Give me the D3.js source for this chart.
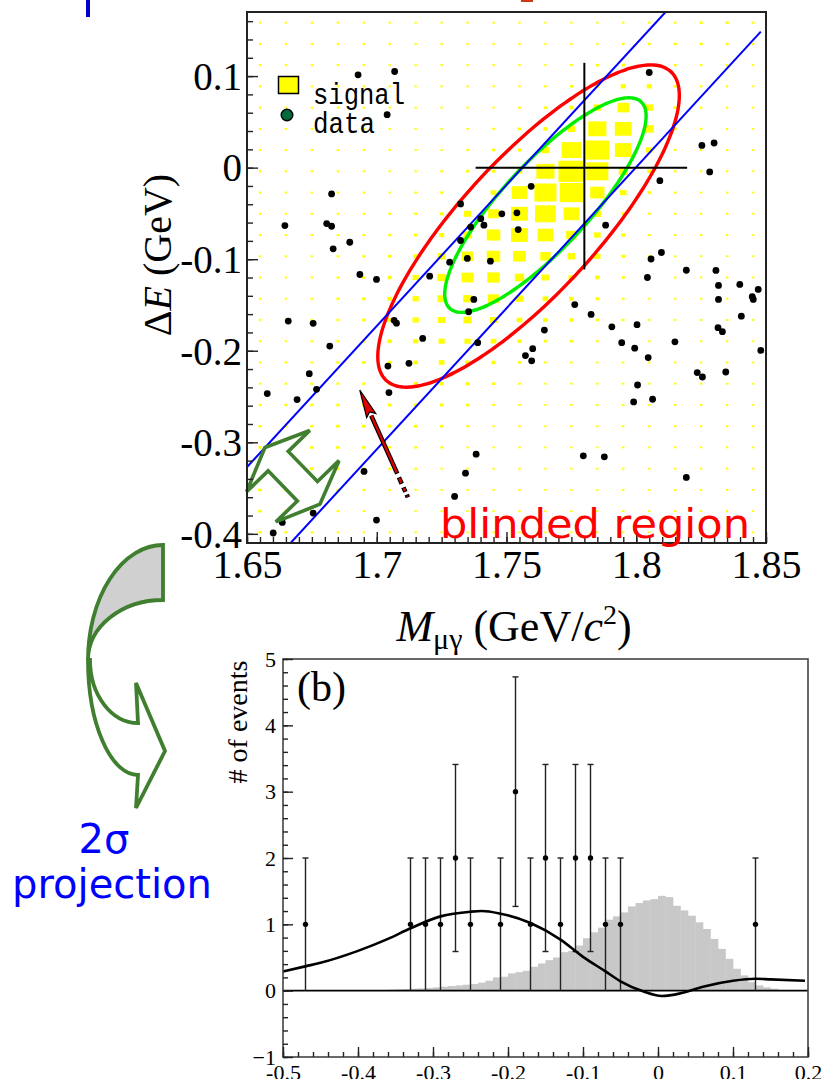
<!DOCTYPE html>
<html><head><meta charset="utf-8">
<script src="https://cdn.jsdelivr.net/npm/d3@7"></script>
<style>body{margin:0;background:#fff}svg{display:block}</style>
</head><body>
<svg id="c" width="827" height="1079"></svg>
<script>
// ================= DATA =================
// --- top panel: M_mu_gamma vs Delta E ---
const topXDomain = [1.65, 1.85];
const topYDomain = [-0.41, 0.17];
const topXTicks = [1.65, 1.7, 1.75, 1.8, 1.85];
const topYTicks = [-0.4, -0.3, -0.2, -0.1, 0, 0.1];
// signal MC box sizes (% of cell), rows from top (dE high) to bottom, 20 mass bins of 0.01
const sigNX = 20, sigNY = 25;
const signalBoxes = [
 [9,9,9,9,9,9,9,9,9,9,9,9,9,9,9,10,10,12,12,11],
 [9,9,9,9,9,9,9,9,9,9,9,9,9,9,10,11,12,12,11,10],
 [9,9,9,9,9,9,9,9,9,9,9,9,10,12,13,13,11,10,10,9],
 [9,9,9,9,9,9,9,9,9,9,9,10,12,14,20,20,12,10,9,9],
 [9,9,9,9,9,9,9,9,9,9,10,12,16,30,45,30,13,10,9,9],
 [9,9,9,9,9,9,9,9,9,10,12,16,30,70,65,35,12,10,9,9],
 [9,9,9,9,9,9,9,9,10,12,14,30,75,90,65,25,10,9,9,9],
 [9,9,9,9,9,9,9,10,12,13,22,70,100,85,35,16,10,9,9,9],
 [9,9,9,9,9,9,10,11,13,22,60,85,90,55,25,13,10,9,9,9],
 [9,9,9,9,9,10,11,15,28,42,65,80,60,30,14,10,9,9,9,9],
 [9,9,9,9,10,11,13,20,34,52,65,60,40,25,16,10,9,9,9,9],
 [9,9,9,10,11,13,19,30,44,52,50,40,30,25,14,10,9,9,9,9],
 [9,9,9,10,12,16,24,34,46,48,36,28,22,18,12,9,9,9,9,9],
 [9,9,10,11,13,18,24,32,34,42,30,22,18,14,10,9,9,9,9,9],
 [9,9,10,11,13,18,24,28,32,28,22,18,16,12,10,9,9,9,9,9],
 [9,9,10,11,13,17,20,24,24,22,16,12,12,10,9,9,9,9,9,9],
 [9,10,10,11,13,16,18,22,19,16,12,10,10,9,9,9,9,9,9,9],
 [9,10,11,11,12,13,16,16,15,12,10,9,9,9,9,9,9,9,9,9],
 [10,11,12,12,13,14,14,13,12,10,9,9,9,9,9,9,9,9,9,9],
 [11,12,12,13,14,14,13,12,10,9,9,9,9,9,9,9,9,9,9,9],
 [12,12,13,13,13,12,11,10,9,9,9,9,9,9,9,9,9,9,9,9],
 [12,13,13,13,12,11,10,9,9,9,9,9,9,9,9,9,9,9,9,9],
 [13,13,12,11,10,9,9,9,9,9,9,9,9,9,9,9,9,9,9,9],
 [13,12,11,10,9,9,9,9,9,9,9,9,9,9,9,9,9,9,9,9],
 [12,11,10,9,9,9,9,9,9,9,9,9,9,9,9,9,9,9,9,9]
];
// observed data events
const dataM = [1.6928,1.7069,1.7040,1.6826,1.6646,1.6807,1.6826,1.6832,1.6896,1.6935,1.6999,
 1.8050,1.8253,1.8300,1.8283,1.8091,1.7595,1.7323,1.7482,1.7540,1.7401,1.7362,1.7413,1.7545,
 1.7323,1.7882,1.7281,1.7349,1.7438,1.7204,1.8057,1.8097,1.8193,1.8307,1.8043,1.7374,1.7354,
 1.7763,1.7826,1.7906,1.8003,1.8149,1.7944,1.7994,1.8046,1.7067,1.7076,1.7177,1.7124,1.7043,
 1.7646,1.7573,1.7601,1.7597,1.7389,1.8005,1.8235,1.8255,1.8345,1.8063,1.7990,1.7047,1.6659,
 1.6755,1.6819,1.6740,1.6768,1.6578,1.6693,1.7383,1.7342,1.7300,1.6951,1.6755,1.6636,1.6601,
 1.6999,1.8317,1.8399,1.8470,1.8447,1.8451,1.8317,1.8405,1.8315,1.8332,1.8480,1.7796,1.7877,1.8193];
const dataDE = [0.1014,0.1050,0.0578,-0.0287,-0.0633,-0.0611,-0.0640,-0.0887,-0.0815,-0.1167,-0.1221,
 0.1039,0.0243,0.0269,-0.0047,-0.0142,-0.0204,-0.0396,-0.0505,-0.0494,-0.0558,-0.0649,-0.0629,-0.0676,
 -0.0796,-0.0629,-0.1033,-0.0992,-0.1022,-0.1185,-0.0998,-0.0927,-0.1121,-0.1123,-0.1200,-0.1439,-0.1574,
 -0.1496,-0.1603,-0.1739,-0.1715,-0.1903,-0.1912,-0.1972,-0.2075,-0.1668,-0.1699,-0.1865,-0.2137,-0.2167,
 -0.1774,-0.2053,-0.1977,-0.2110,-0.1912,-0.2374,-0.2239,-0.2287,-0.2232,-0.2530,-0.2559,-0.2457,-0.1676,
 -0.1701,-0.1949,-0.2250,-0.2421,-0.2468,-0.2533,-0.3130,-0.3337,-0.3591,-0.3318,-0.3773,-0.3875,-0.3991,
 -0.3850,-0.1287,-0.1276,-0.1330,-0.1410,-0.1439,-0.1439,-0.1622,-0.1748,-0.1792,-0.1996,-0.3148,-0.3159,-0.3384];
// ellipses: [centre M, centre dE, half-width M, half-height dE, correlation]
const redEllipse = [1.7585, -0.0638, 0.0581, 0.176, 0.81];
const greenEllipse = [1.765, -0.0409, 0.0388, 0.1172, 0.83];
// blue band lines: endpoints [M, dE]
const bandUpper = [[1.65, -0.327], [1.8113, 0.17]];
const bandLower = [[1.6668, -0.41], [1.848, 0.1485]];
// crosshair: vertical [M, dE1, dE2], horizontal [dE, M1, M2]
const crossV = [1.78, -0.1112, 0.1145];
const crossH = [0.0, 1.7381, 1.8196];

// --- bottom panel (b): Delta E projection ---
const botXDomain = [-0.5, 0.2];
const botYDomain = [-1, 5];
const botXTicks = [-0.5, -0.4, -0.3, -0.2, -0.1, 0, 0.1, 0.2];
const botYTicks = [-1, 0, 1, 2, 3, 4, 5];
const evX = [-0.47,-0.33,-0.31,-0.29,-0.27,-0.25,-0.21,-0.19,-0.17,-0.15,-0.13,-0.11,-0.09,-0.07,-0.05,0.13];
const evN = [1,1,1,1,2,1,1,3,1,2,1,2,2,1,1,1];
const evErr = [1,1,1,1,1.41,1,1,1.73,1,1.41,1,1.41,1.41,1,1,1];
// signal MC histogram: bin left edges and heights (bin width 0.01)
const histLeft = [-0.39,-0.38,-0.37,-0.36,-0.35,-0.34,-0.33,-0.32,-0.31,-0.30,-0.29,-0.28,-0.27,-0.26,-0.25,
 -0.24,-0.23,-0.22,-0.21,-0.20,-0.19,-0.18,-0.17,-0.16,-0.15,-0.14,-0.13,-0.12,-0.11,-0.10,-0.09,-0.08,-0.07,
 -0.06,-0.05,-0.04,-0.03,-0.02,-0.01,0.00,0.01,0.02,0.03,0.04,0.05,0.06,0.07,0.08,0.09,0.10,0.11,0.12,0.13,0.14,0.15];
const histH = [0.005,0.01,0.01,0.015,0.02,0.025,0.03,0.035,0.04,0.05,0.06,0.07,0.08,0.09,0.10,
 0.12,0.15,0.20,0.21,0.26,0.28,0.30,0.36,0.41,0.46,0.50,0.58,0.60,0.68,0.79,0.88,0.95,1.07,
 1.12,1.18,1.27,1.32,1.36,1.38,1.43,1.41,1.28,1.21,1.13,1.03,0.93,0.78,0.63,0.48,0.33,0.23,0.13,0.08,0.05,0.03];
const histW = 0.01;
// fitted curve
const fitX = [-0.5,-0.469,-0.45,-0.40,-0.36,-0.33,-0.29,-0.25,-0.235,-0.21,-0.17,-0.13,-0.10,-0.07,-0.05,-0.02,0.005,0.03,0.06,0.10,0.13,0.15,0.196];
const fitY = [0.29,0.37,0.42,0.60,0.78,0.94,1.12,1.19,1.20,1.16,1.02,0.77,0.51,0.29,0.14,-0.01,-0.08,-0.04,0.06,0.15,0.18,0.17,0.15];

// ================= DRAW =================
const svg = d3.select("#c");
svg.append("rect").attr("width",827).attr("height",1079).attr("fill","#fff");
const serif = "'Liberation Serif','Times New Roman',serif";

// cut-off title remnants at the very top
svg.append("rect").attr("x",86).attr("y",0).attr("width",4).attr("height",17).attr("fill","#0000cc");
svg.append("rect").attr("x",521).attr("y",0).attr("width",12).attr("height",2).attr("fill","#cc3a10");

// ---------- TOP PANEL ----------
const xT = d3.scaleLinear().domain(topXDomain).range([247,766]);
const yT = d3.scaleLinear().domain(topYDomain).range([543,12]);
svg.append("clipPath").attr("id","clipT").append("rect")
  .attr("x",247).attr("y",12).attr("width",519).attr("height",531);
const gT = svg.append("g").attr("clip-path","url(#clipT)");

const bwX = (topXDomain[1]-topXDomain[0])/sigNX, bwY = (topYDomain[1]-topYDomain[0])/sigNY;
const cellW = xT(topXDomain[0]+bwX)-xT(topXDomain[0]);
const cellH = yT(topYDomain[0])-yT(topYDomain[0]+bwY);
const boxes = [];
signalBoxes.forEach((row,r)=>row.forEach((v,j)=>{
  boxes.push({m: topXDomain[0]+(j+0.5)*bwX, e: topYDomain[0]+(sigNY-1-r+0.5)*bwY, f: v/100});
}));
gT.selectAll("rect.sig").data(boxes).join("rect").attr("class","sig")
  .attr("x",d=>xT(d.m)-cellW*d.f/2).attr("y",d=>yT(d.e)-cellH*d.f/2)
  .attr("width",d=>cellW*d.f).attr("height",d=>cellH*d.f).attr("fill","#ffff00");

function ellipsePath(p){
  const [cx,cy,sx,sy,rho]=p;
  const pts = d3.range(0,360,2).map(a=>{const t=a*Math.PI/180;
    return [xT(cx+sx*Math.cos(t)), yT(cy+sy*(rho*Math.cos(t)+Math.sqrt(1-rho*rho)*Math.sin(t)))];});
  return d3.line().curve(d3.curveCardinalClosed)(pts);
}
gT.append("path").attr("d",ellipsePath(redEllipse)).attr("fill","none").attr("stroke","#ff0000").attr("stroke-width",3.4);
gT.append("path").attr("d",ellipsePath(greenEllipse)).attr("fill","none").attr("stroke","#00ee00").attr("stroke-width",3.4);
[bandUpper,bandLower].forEach(l=>{
  gT.append("line").attr("x1",xT(l[0][0])).attr("y1",yT(l[0][1])).attr("x2",xT(l[1][0])).attr("y2",yT(l[1][1]))
    .attr("stroke","#0000ff").attr("stroke-width",2);
});
gT.append("line").attr("x1",xT(crossV[0])).attr("x2",xT(crossV[0])).attr("y1",yT(crossV[1])).attr("y2",yT(crossV[2]))
  .attr("stroke","#000").attr("stroke-width",2);
gT.append("line").attr("y1",yT(crossH[0])).attr("y2",yT(crossH[0])).attr("x1",xT(crossH[1])).attr("x2",xT(crossH[2]))
  .attr("stroke","#000").attr("stroke-width",2);
gT.selectAll("circle.ev").data(dataM.map((m,i)=>[m,dataDE[i]])).join("circle").attr("class","ev")
  .attr("cx",d=>xT(d[0])).attr("cy",d=>yT(d[1])).attr("r",3.4).attr("fill","#000");

// green double arrow (annotation, anchored in data coords)
(function(){
  const ax = xT(1.65692), ay = yT(-0.30567);
  const d=[0.696,0.718], n=[0.718,-0.696];
  const P=(a,b)=>[ax+a*d[0]+b*n[0], ay+a*d[1]+b*n[1]];
  const L=79;
  const pts=[P(0,0),P(19,44),P(19,14),P(L-18,14),P(L-18,44),P(L,0),P(L-18,-44),P(L-18,-14),P(19,-14),P(19,-44)];
  svg.append("path").attr("d",d3.line()(pts)+"Z").attr("fill","#fff").attr("stroke","#3f7f2f")
    .attr("stroke-width",3.6).attr("stroke-linejoin","miter");
})();
// red arrow
(function(){
  const tx=xT(1.69346), ty=yT(-0.2429), ex=xT(1.7120), ey=yT(-0.3602);
  const len=Math.hypot(ex-tx,ey-ty), ux=(ex-tx)/len, uy=(ey-ty)/len, px=-uy, py=ux;
  const hl=28, hw=5;
  const solidEnd=len-26;
  const g=svg.append("g");
  g.append("line").attr("x1",tx+ux*hl).attr("y1",ty+uy*hl).attr("x2",tx+ux*solidEnd).attr("y2",ty+uy*solidEnd)
    .attr("stroke","#000").attr("stroke-width",4.6);
  g.append("line").attr("x1",tx+ux*hl).attr("y1",ty+uy*hl).attr("x2",tx+ux*(solidEnd-1)).attr("y2",ty+uy*(solidEnd-1))
    .attr("stroke","#e00000").attr("stroke-width",2.2);
  [[len-22,len-15],[len-11,len-6],[len-3,len]].forEach(s=>{
    g.append("line").attr("x1",tx+ux*s[0]).attr("y1",ty+uy*s[0]).attr("x2",tx+ux*s[1]).attr("y2",ty+uy*s[1])
      .attr("stroke","#000").attr("stroke-width",4.6);
    g.append("line").attr("x1",tx+ux*(s[0]+1)).attr("y1",ty+uy*(s[0]+1)).attr("x2",tx+ux*(s[1]-1)).attr("y2",ty+uy*(s[1]-1))
      .attr("stroke","#e00000").attr("stroke-width",2.2);
  });
  const head=[[tx,ty],[tx+ux*hl+px*hw,ty+uy*hl+py*hw],[tx+ux*(hl-4),ty+uy*(hl-4)],[tx+ux*hl-px*hw,ty+uy*hl-py*hw]];
  g.append("path").attr("d",d3.line()(head)+"Z").attr("fill","#e00000").attr("stroke","#000").attr("stroke-width",1.2);
})();

// frame
svg.append("rect").attr("x",247).attr("y",12).attr("width",519).attr("height",531)
  .attr("fill","none").attr("stroke","#222").attr("stroke-width",2);
// axes
const gYT = svg.append("g").attr("transform","translate(247,0)")
  .call(d3.axisLeft(yT).tickValues(topYTicks).tickSizeInner(-11).tickSizeOuter(0).tickPadding(5)
    .tickFormat(v=>v===0?"0":String(+v.toFixed(1))));
svg.append("g").attr("transform","translate(247,0)")
  .call(d3.axisLeft(yT).tickValues(d3.range(-0.40,0.1601,0.02)).tickSizeInner(-6).tickSizeOuter(0).tickFormat(""));
const gXT = svg.append("g").attr("transform","translate(0,543)")
  .call(d3.axisBottom(xT).tickValues(topXTicks).tickSizeInner(-11).tickSizeOuter(0).tickPadding(6)
    .tickFormat(v=>String(+v.toFixed(2))));
svg.append("g").attr("transform","translate(0,543)")
  .call(d3.axisBottom(xT).tickValues(d3.range(1.65,1.8501,0.005)).tickSizeInner(-6).tickSizeOuter(0).tickFormat(""));
svg.selectAll(".domain").remove();
svg.selectAll(".tick line").attr("stroke","#222").attr("stroke-width",1.6);
gYT.selectAll("text").attr("font-family",serif).attr("font-size",39).attr("fill","#000").attr("dy","0.34em");
gXT.selectAll("text").attr("font-family",serif).attr("font-size",40).attr("fill","#000").attr("dy","0.72em");

// axis titles
const yl = svg.append("text").attr("transform","translate(171,255) rotate(-90)").attr("text-anchor","middle")
  .attr("font-family",serif).attr("font-size",40).attr("fill","#000");
yl.append("tspan").text("\u0394");
yl.append("tspan").attr("font-style","italic").text("E");
yl.append("tspan").text(" (GeV)");
const xl = svg.append("text").attr("x",514).attr("y",641).attr("text-anchor","middle")
  .attr("font-family",serif).attr("font-size",44).attr("fill","#000");
xl.append("tspan").attr("font-style","italic").text("M");
xl.append("tspan").attr("font-size",30).attr("dy",8).text("\u03bc\u03b3");
xl.append("tspan").attr("dy",-8).text(" (GeV/");
xl.append("tspan").attr("font-style","italic").text("c");
xl.append("tspan").attr("font-size",28).attr("dy",-17).text("2");
xl.append("tspan").attr("dy",17).text(")");

// legend
svg.append("rect").attr("x",278.5).attr("y",76.5).attr("width",20).attr("height",17)
  .attr("fill","#ffff00").attr("stroke","#000").attr("stroke-width",1.5);
svg.append("circle").attr("cx",287).attr("cy",115).attr("r",5.8).attr("fill","#006b3a").attr("stroke","#000").attr("stroke-width",1.4);
const mono="'Liberation Mono','DejaVu Sans Mono',monospace";
svg.append("text").attr("x",313).attr("y",104).attr("font-family",mono).attr("font-size",29)
  .attr("textLength",92).attr("lengthAdjust","spacingAndGlyphs").text("signal");
svg.append("text").attr("x",313).attr("y",133).attr("font-family",mono).attr("font-size",29)
  .attr("textLength",62).attr("lengthAdjust","spacingAndGlyphs").text("data");

// blinded region label
svg.append("text").attr("x",440).attr("y",538).attr("font-family","'Comic Sans MS','DejaVu Sans',sans-serif")
  .attr("font-size",41).attr("fill","#ff0000").attr("textLength",310).attr("lengthAdjust","spacingAndGlyphs")
  .text("blinded region");

// ---------- curved projection arrow ----------
svg.append("path").attr("d","M163,545 A75,115 0 0 0 88,660 A75,60 0 0 1 163,600 Z")
  .attr("fill","#d0d0d0").attr("stroke","#3f7f2f").attr("stroke-width",3.8).attr("stroke-linejoin","miter");
svg.append("path").attr("d","M88,660 A50,115 0 0 0 138,775 L136,808 L165,751 L136,683 L138,723 A48,63 0 0 1 90,660 Z")
  .attr("fill","#fff").attr("stroke","#3f7f2f").attr("stroke-width",3.8).attr("stroke-linejoin","miter");
const cfont="'Comic Sans MS','DejaVu Sans',sans-serif";
svg.append("text").attr("x",104).attr("y",853).attr("text-anchor","middle").attr("font-family",cfont)
  .attr("font-size",40).attr("fill","#0000ff").text("2\u03c3");
svg.append("text").attr("x",12).attr("y",898).attr("font-family",cfont)
  .attr("font-size",40).attr("fill","#0000ff").attr("textLength",200).attr("lengthAdjust","spacingAndGlyphs").text("projection");

// ---------- BOTTOM PANEL ----------
const xB = d3.scaleLinear().domain(botXDomain).range([283,808]);
const yB = d3.scaleLinear().domain(botYDomain).range([1057,659]);
const gB = svg.append("g");
gB.selectAll("rect.h").data(histLeft.map((l,i)=>[l,histH[i]])).join("rect").attr("class","h")
  .attr("x",d=>xB(d[0])).attr("width",d=>xB(d[0]+histW)-xB(d[0])+0.3)
  .attr("y",d=>yB(d[1])).attr("height",d=>yB(0)-yB(d[1])).attr("fill","#c8c8c8");
gB.append("line").attr("x1",xB(botXDomain[0])).attr("x2",xB(botXDomain[1])).attr("y1",yB(0)).attr("y2",yB(0))
  .attr("stroke","#000").attr("stroke-width",1.6);
// error bars
const evs = evX.map((x,i)=>({x, n:evN[i], e:evErr[i]}));
evs.forEach(d=>{
  const lo=Math.max(d.n-d.e,0), hi=d.n+d.e, X=xB(d.x);
  gB.append("line").attr("x1",X).attr("x2",X).attr("y1",yB(lo)).attr("y2",yB(hi)).attr("stroke","#222").attr("stroke-width",1.4);
  gB.append("line").attr("x1",X-3).attr("x2",X+3).attr("y1",yB(hi)).attr("y2",yB(hi)).attr("stroke","#222").attr("stroke-width",1.4);
  if(lo>0) gB.append("line").attr("x1",X-3).attr("x2",X+3).attr("y1",yB(lo)).attr("y2",yB(lo)).attr("stroke","#222").attr("stroke-width",1.4);
});
gB.append("path").attr("d",d3.line().x((d,i)=>xB(d)).y((d,i)=>yB(fitY[i])).curve(d3.curveMonotoneX)(fitX))
  .attr("fill","none").attr("stroke","#000").attr("stroke-width",2.6);
gB.selectAll("circle").data(evs).join("circle").attr("cx",d=>xB(d.x)).attr("cy",d=>yB(d.n)).attr("r",2.7).attr("fill","#000");
// frame + axes
svg.append("rect").attr("x",283).attr("y",659).attr("width",525).attr("height",398)
  .attr("fill","none").attr("stroke","#444").attr("stroke-width",1.6);
const gYB = svg.append("g").attr("transform","translate(283,0)")
  .call(d3.axisLeft(yB).tickValues(botYTicks).tickSizeInner(-10).tickSizeOuter(0).tickPadding(7).tickFormat(d3.format("d")));
svg.append("g").attr("transform","translate(283,0)").attr("class","minor")
  .call(d3.axisLeft(yB).tickValues(d3.range(-1,5.001,0.2)).tickSizeInner(-5).tickSizeOuter(0).tickFormat(""));
const gXB = svg.append("g").attr("transform","translate(0,1057)")
  .call(d3.axisBottom(xB).tickValues(botXTicks).tickSizeInner(-10).tickSizeOuter(0).tickPadding(7)
    .tickFormat(v=>v===0?"0":String(+v.toFixed(1))));
svg.append("g").attr("transform","translate(0,1057)")
  .call(d3.axisBottom(xB).tickValues(d3.range(-0.5,0.2001,0.02)).tickSizeInner(-5).tickSizeOuter(0).tickFormat(""));
svg.selectAll(".domain").remove();
[gYB,gXB].forEach(g=>g.selectAll("text").attr("font-family",serif).attr("font-size",22).attr("fill","#000"));
gXB.selectAll("text").attr("dy","0.71em");
svg.selectAll("g.tick line").attr("stroke","#222").attr("stroke-width",1.4);
svg.append("text").attr("transform","translate(247,722) rotate(-90)").attr("text-anchor","middle")
  .attr("font-family",serif).attr("font-size",28).attr("fill","#000").text("# of events");
svg.append("text").attr("x",297).attr("y",701).attr("font-family",serif).attr("font-size",42).attr("fill","#000").text("(b)");
</script>
</body></html>
